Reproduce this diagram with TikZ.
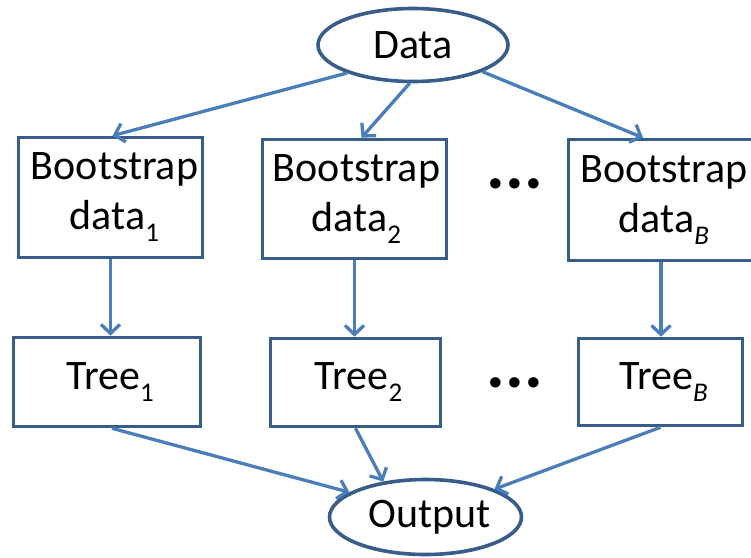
\documentclass[tikz,border=0pt]{standalone}
\usepackage{fontspec}
\setmainfont{Carlito}
\usetikzlibrary{arrows.meta,shapes.geometric}

\definecolor{boxline}{RGB}{56,93,138}
\definecolor{arrowline}{RGB}{74,126,187}

% lowered, smaller index after a word
\newcommand\subidx[1]{\raisebox{-12pt}{\fontsize{27}{27}\selectfont #1}}

\begin{document}
\begin{tikzpicture}[x=1pt,y=-1pt,
  every node/.style={font=\fontsize{42}{50}\selectfont},
  box/.style={draw=boxline, line width=3.6pt, rectangle, inner sep=0pt, align=center},
  oval/.style={draw=boxline, line width=3.6pt, ellipse, inner sep=0pt},
  link/.style={draw=arrowline, line width=3.3pt, -{Straight Barb[length=9pt,width=19pt]}},
  dotrow/.style={font=\fontsize{70}{70}\selectfont\bfseries, inner sep=0pt, anchor=base}]

  \useasboundingbox (0,0) rectangle (751,557);

  % root and sink
  \node[oval, minimum width=190pt, minimum height=73pt] (data) at (413,45) {Data};
  \node[oval, minimum width=192pt, minimum height=75pt] (output) at (425.5,517) {\hspace*{8pt}Output};

  % bootstrap samples
  \node[box, minimum width=184pt, minimum height=120pt] (boot1) at (110.5,197.5) {\hspace*{8pt}Bootstrap\\\hspace*{8pt}data\subidx{1}};
  \node[box, minimum width=184pt, minimum height=119pt] (boot2) at (354.5,199) {\hspace*{4pt}Bootstrap\\\hspace*{4pt}data\subidx{2}};
  \node[box, minimum width=185pt, minimum height=121pt] (bootB) at (661,200) {\hspace*{6pt}Bootstrap\\\hspace*{6pt}data\subidx{\itshape B}};

  % fitted trees
  \node[box, minimum width=187pt, minimum height=89pt] (tree1) at (107,382) {\hspace*{6pt}Tree\subidx{1}};
  \node[box, minimum width=170pt, minimum height=88pt] (tree2) at (355.5,382.5) {\hspace*{6pt}Tree\subidx{2}};
  \node[box, minimum width=164pt, minimum height=87pt] (treeB) at (660.5,382) {\hspace*{6pt}Tree\subidx{\itshape B}};

  % ellipsis between columns
  \node[dotrow] (dotsA) at (515,188) {...};
  \node[dotrow] (dotsB) at (515,387) {...};

  % data -> bootstrap samples
  \draw[link] (data.203) -- ([xshift=2pt]boot1.north);
  \draw[link] (data.265) -- ([xshift=7pt]boot2.north);
  \draw[link] (data.339) -- ([xshift=-18pt]bootB.north);

  % bootstrap samples -> trees
  \draw[link] (boot1.south) -- (boot1.south |- tree1.north);
  \draw[link] (boot2.south) -- (boot2.south |- tree2.north);
  \draw[link] (bootB.south) -- (bootB.south |- treeB.north);

  % trees -> output
  \draw[link] ([xshift=5pt]tree1.south) -- (output.162);
  \draw[link] (tree2.south) -- (output.140);
  \draw[link] (treeB.south) -- (output.22);
\end{tikzpicture}
\end{document}
